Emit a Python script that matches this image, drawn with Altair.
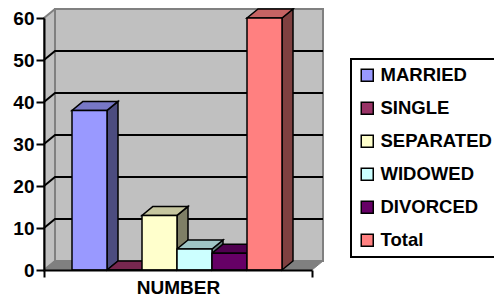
import altair as alt
import pandas as pd

# ---- data ----
categories = ["MARRIED", "SINGLE", "SEPARATED", "WIDOWED", "DIVORCED", "Total"]
values = [38, 0, 13, 5, 4, 60]
y_ticks = [0, 10, 20, 30, 40, 50, 60]
grid_values = [10, 20, 30, 40, 50]
axis_title = "NUMBER"

# ---- style ----
front_colors = ["#9999FF", "#993366", "#FFFFCC", "#CCFFFF", "#660066", "#FF8080"]
FONT = "Liberation Sans, Arial, sans-serif"
FS = 19
AXIS_LEN = 268          # x-axis length (px-like units)
BAR_W = 35
BAR_START = 28
DX = 11                 # 3d depth, x
PLOT_H = 252
YMAX = 60
DY = 9 * YMAX / PLOT_H  # 3d depth, y (data units)


def shade(hexc, f):
    h = hexc.lstrip("#")
    r, g, b = (int(h[i:i + 2], 16) for i in (0, 2, 4))
    return "#%02x%02x%02x" % (int(r * f), int(g * f), int(b * f))


front_rows, side_rows, top_rows = [], [], []
for i, (c, v, col) in enumerate(zip(categories, values, front_colors)):
    xl = BAR_START + i * BAR_W
    xr = xl + BAR_W
    front_rows.append({"cat": c, "x": xl, "x2": xr, "y": v, "y2": 0})
    side_rows.append({"cat": c, "x": xr, "y": 0, "y2": v, "col": shade(col, 0.5)})
    side_rows.append({"cat": c, "x": xr + DX, "y": DY, "y2": v + DY, "col": shade(col, 0.5)})
    top_rows.append({"cat": c, "y": v, "x": xl, "x2": xr, "col": shade(col, 0.78)})
    top_rows.append({"cat": c, "y": v + DY, "x": xl + DX, "x2": xr + DX, "col": shade(col, 0.78)})

front_df = pd.DataFrame(front_rows)
side_df = pd.DataFrame(side_rows)
top_df = pd.DataFrame(top_rows)

grid_rows = []
for g in grid_values:
    grid_rows += [
        {"g": g, "o": 0, "x": 0, "y": g},
        {"g": g, "o": 1, "x": DX, "y": g + DY},
        {"g": g, "o": 2, "x": AXIS_LEN + DX, "y": g + DY},
    ]
grid_df = pd.DataFrame(grid_rows)

wall_df = pd.DataFrame([{"x": DX, "x2": AXIS_LEN + DX, "y": DY, "y2": YMAX + DY}])
left_df = pd.DataFrame([{"x": 0, "y": 0, "y2": YMAX}, {"x": DX, "y": DY, "y2": YMAX + DY}])
floor_df = pd.DataFrame([{"y": 0, "x": 0, "x2": AXIS_LEN}, {"y": DY, "x": DX, "x2": AXIS_LEN + DX}])

xs = alt.Scale(domain=[0, AXIS_LEN], nice=False, zero=False)
ys = alt.Scale(domain=[0, YMAX], nice=False, zero=True)

x_axis = alt.Axis(values=[0, AXIS_LEN], labels=False, tickSize=7, tickWidth=2,
                  tickColor="black", domainColor="black", domainWidth=2, grid=False,
                  title=axis_title, titleFont=FONT, titleFontSize=FS, titleFontWeight="bold",
                  titleColor="black", titlePadding=0, zindex=1)
y_axis = alt.Axis(values=y_ticks, tickSize=8, tickWidth=2, tickColor="black",
                  domainColor="black", domainWidth=2, grid=False, title=None,
                  labelFont=FONT, labelFontSize=FS, labelFontWeight="bold",
                  labelColor="black", labelPadding=2, zindex=1)


def X(field="x:Q", **kw):
    return alt.X(field, scale=xs, axis=x_axis, **kw)


def Y(field="y:Q", **kw):
    return alt.Y(field, scale=ys, axis=y_axis, **kw)


wall = alt.Chart(wall_df).mark_rect(fill="#C0C0C0", stroke="#808080", strokeWidth=2).encode(
    x=X(), x2="x2:Q", y=Y(), y2="y2:Q")

left = alt.Chart(left_df).mark_area(orient="vertical", fill="#C0C0C0", stroke="#808080",
                                     strokeWidth=2).encode(
    x=X(), y=Y(stack=None), y2="y2:Q")

floor = alt.Chart(floor_df).mark_area(orient="horizontal", fill="#808080", stroke="#808080",
                                       strokeWidth=1).encode(
    y=Y(), x=X(stack=None), x2="x2:Q")

grid = alt.Chart(grid_df).mark_line(color="black", strokeWidth=2).encode(
    x=X(), y=Y(), detail="g:N", order="o:Q")

sides = alt.Chart(side_df).mark_area(orient="vertical", stroke="black", strokeWidth=1.5).encode(
    x=X(), y=Y(stack=None), y2="y2:Q",
    detail="cat:N",
    color=alt.Color("col:N", scale=None, legend=None))

tops = alt.Chart(top_df).mark_area(orient="horizontal", stroke="black", strokeWidth=1.5).encode(
    y=Y(), x=X(stack=None), x2="x2:Q",
    detail="cat:N",
    color=alt.Color("col:N", scale=None, legend=None))

fronts = alt.Chart(front_df).mark_rect(stroke="black", strokeWidth=1.5).encode(
    x=X(), x2="x2:Q",
    y=Y(), y2="y2:Q",
    color=alt.Color("cat:N", scale=alt.Scale(domain=categories, range=front_colors),
                    legend=alt.Legend(orient="none", legendX=307, legendY=41, title=None,
                                      padding=7, strokeColor="black", fillColor="white",
                                      symbolType="square", symbolSize=144,
                                      symbolStrokeColor="black", symbolStrokeWidth=1.5,
                                      labelFont=FONT, labelFontSize=18.5, labelFontWeight="bold",
                                      labelColor="black", labelOffset=4, rowPadding=14,
                                      labelLimit=400)))

chart = alt.layer(wall, left, floor, grid, sides, tops, fronts).resolve_scale(
    color="independent"
).properties(
    width=AXIS_LEN, height=PLOT_H,
    autosize=alt.AutoSizeParams(type="none"),
    padding={"left": 36, "top": 10, "right": 182, "bottom": 28},
    background="white",
).configure_view(stroke=None).configure_legend(strokeWidth=2)

chart.save("out.html", embed_options={"renderer": "svg", "actions": False})
